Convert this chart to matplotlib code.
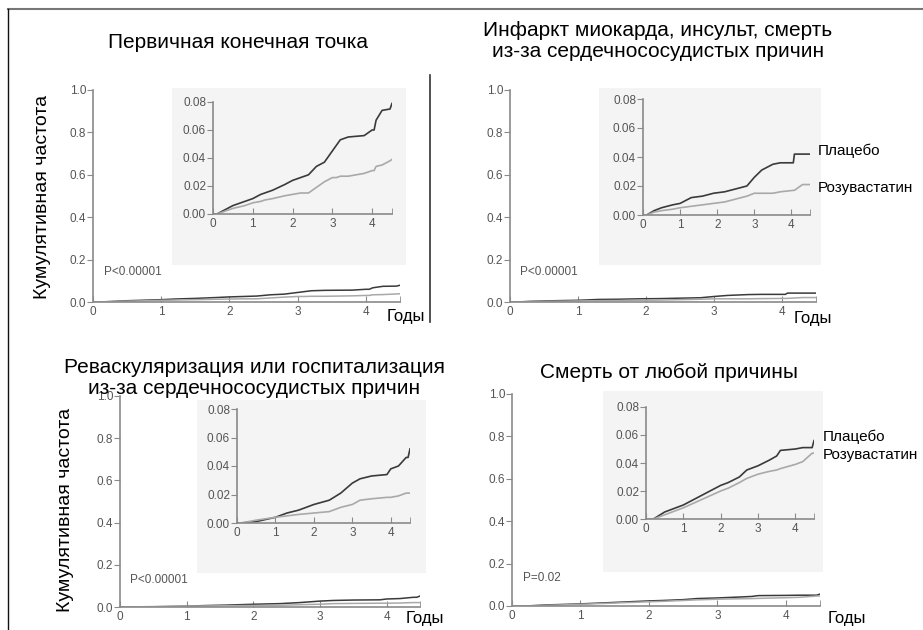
import matplotlib
matplotlib.use("Agg")
import matplotlib.pyplot as plt
from matplotlib.patches import Rectangle
from matplotlib.lines import Line2D
from matplotlib.ticker import MultipleLocator, FormatStrFormatter

plt.rcParams['font.family'] = ['Liberation Sans', 'DejaVu Sans']

W, H = 923, 630

# --- data (years, cumulative incidence) ---
titles = ["Первичная конечная точка",
          "Инфаркт миокарда, инсульт, смерть\nиз-за сердечнососудистых причин",
          "Реваскуляризация или госпитализация\nиз-за сердечнососудистых причин",
          "Смерть от любой причины"]
p_values = ["P<0.00001", "P<0.00001", "P<0.00001", "P=0.02"]

t1 = [0, 0.1, 0.3, 0.5, 0.8, 1.0, 1.2, 1.3, 1.5, 1.8, 2.0, 2.2, 2.4, 2.6, 2.8, 3.0, 3.1, 3.2, 3.4, 3.8, 4.0, 4.05, 4.1, 4.25, 4.45, 4.5]
plac1 = [0, 0, 0.003, 0.006, 0.009, 0.011, 0.014, 0.015, 0.017, 0.021, 0.024, 0.026, 0.028, 0.034, 0.037, 0.045, 0.049, 0.053, 0.055, 0.056, 0.060, 0.060, 0.067, 0.074, 0.075, 0.079]
rosu1 = [0, 0, 0.002, 0.004, 0.006, 0.008, 0.009, 0.010, 0.011, 0.013, 0.014, 0.015, 0.015, 0.019, 0.023, 0.026, 0.026, 0.027, 0.027, 0.029, 0.031, 0.031, 0.034, 0.035, 0.038, 0.039]

t2 = [0, 0.1, 0.3, 0.5, 0.8, 1.0, 1.3, 1.6, 1.9, 2.2, 2.5, 2.8, 3.0, 3.2, 3.5, 3.7, 4.05, 4.08, 4.3, 4.5]
plac2 = [0, 0, 0.003, 0.005, 0.007, 0.008, 0.012, 0.013, 0.015, 0.016, 0.018, 0.020, 0.026, 0.031, 0.035, 0.036, 0.036, 0.042, 0.042, 0.042]
rosu2 = [0, 0, 0.002, 0.003, 0.004, 0.005, 0.006, 0.007, 0.008, 0.009, 0.011, 0.013, 0.015, 0.015, 0.015, 0.016, 0.017, 0.017, 0.021, 0.021]

t3 = [0, 0.1, 0.5, 1.0, 1.3, 1.6, 2.0, 2.4, 2.7, 3.0, 3.2, 3.5, 3.9, 4.0, 4.2, 4.4, 4.45, 4.5]
plac3 = [0, 0, 0.001, 0.004, 0.007, 0.009, 0.013, 0.016, 0.021, 0.028, 0.031, 0.033, 0.034, 0.038, 0.040, 0.046, 0.046, 0.052]
rosu3 = [0, 0, 0.002, 0.004, 0.005, 0.006, 0.007, 0.008, 0.011, 0.013, 0.016, 0.017, 0.018, 0.018, 0.019, 0.021, 0.021, 0.021]

t4 = [0, 0.2, 0.5, 1.0, 1.5, 2.0, 2.2, 2.5, 2.7, 3.0, 3.3, 3.5, 3.6, 4.0, 4.2, 4.45, 4.5]
plac4 = [0, 0, 0.005, 0.010, 0.017, 0.024, 0.026, 0.030, 0.035, 0.038, 0.042, 0.045, 0.049, 0.050, 0.051, 0.051, 0.056]
rosu4 = [0, 0, 0.003, 0.008, 0.014, 0.020, 0.022, 0.026, 0.029, 0.032, 0.034, 0.035, 0.036, 0.039, 0.041, 0.047, 0.047]

series = [(t1, plac1, rosu1), (t2, plac2, rosu2), (t3, plac3, rosu3), (t4, plac4, rosu4)]

# --- layout in pixels: (left, top, right, bottom) ---
main_px = [(93, 90, 400, 302), (510, 90, 816, 302), (120, 396, 420, 607), (512, 394, 820, 606)]
inset_px = [(213, 102, 392, 214), (643, 99, 810, 215), (237, 409, 410, 523), (646, 407, 814, 519)]
gray_px = [(172, 88, 406, 265), (599, 88, 821, 265), (197, 400, 426, 573), (603, 391, 823, 572)]
title_xy = [(238, 42), (658, 41), (254, 378), (669, 373)]
p_xy = [(104, 272), (520, 272), (130, 580), (523, 578)]
years_xy = [(387, 316), (794, 318), (406, 619), (828, 619)]
ylabel_xy = [(43, 197), (65, 510)]
legend_xy = [None, (818, 151, 188), None, (823, 437, 455)]

DARK = '#3a3a3a'
LIGHT = '#a9a9a9'
AXC = '#8a8a8a'


def rect(l, t, r, b):
    return [l / W, 1 - b / H, (r - l) / W, (b - t) / H]


def fx(x):
    return x / W


def fy(y):
    return 1 - y / H


def style_axes(ax, ymax, ystep, fmt, lab_size):
    for s in ['top', 'right']:
        ax.spines[s].set_visible(False)
    for s in ['left', 'bottom']:
        ax.spines[s].set_color(AXC)
        ax.spines[s].set_linewidth(1.2)
    ax.set_xlim(0, 4.5)
    ax.set_ylim(0, ymax)
    ax.xaxis.set_major_locator(MultipleLocator(1))
    ax.xaxis.set_minor_locator(MultipleLocator(0.5))
    ax.yaxis.set_major_locator(MultipleLocator(ystep))
    ax.yaxis.set_major_formatter(FormatStrFormatter(fmt))
    ax.tick_params(axis='x', which='both', direction='in', length=4, color=AXC,
                   labelsize=lab_size, labelcolor='#555555', pad=3)
    ax.tick_params(axis='y', which='major', direction='out', length=4, color=AXC,
                   labelsize=lab_size, labelcolor='#555555', pad=1)
    ax.set_xticks([4.5], minor=True)
    ax.set_xticks([0, 1, 2, 3, 4])


fig = plt.figure(figsize=(W / 100, H / 100), dpi=100)

for i in range(4):
    t, pl, ro = series[i]

    ax = fig.add_axes(rect(*main_px[i]))
    ax.set_facecolor('none')
    style_axes(ax, 1.0, 0.2, '%.1f', 8.5)
    ax.plot(t, pl, color=DARK, lw=1.1)
    ax.plot(t, ro, color=LIGHT, lw=1.1)

    l, tp, r, b = gray_px[i]
    fig.add_artist(Rectangle((fx(l), fy(b)), (r - l) / W, (b - tp) / H,
                             transform=fig.transFigure, facecolor='#f4f4f4',
                             edgecolor='none', zorder=0.5))

    ins = fig.add_axes(rect(*inset_px[i]))
    ins.set_zorder(2)
    ins.set_facecolor('none')
    style_axes(ins, 0.08, 0.02, '%.2f', 8.5)
    ins.plot(t, pl, color=DARK, lw=1.2)
    ins.plot(t, ro, color=LIGHT, lw=1.2)

    fig.text(fx(title_xy[i][0]), fy(title_xy[i][1]), titles[i], ha='center', va='center',
             fontsize=15, linespacing=1.1)
    fig.text(fx(p_xy[i][0]), fy(p_xy[i][1]), p_values[i], ha='left', va='center',
             fontsize=8.5, color='#555555')
    fig.text(fx(years_xy[i][0]), fy(years_xy[i][1]), 'Годы', ha='left', va='center',
             fontsize=12)
    if legend_xy[i] is not None:
        x, y1, y2 = legend_xy[i]
        fig.text(fx(x), fy(y1), 'Плацебо', ha='left', va='center', fontsize=11)
        fig.text(fx(x), fy(y2), 'Розувастатин', ha='left', va='center', fontsize=11)

for x, y in ylabel_xy:
    fig.text(fx(x), fy(y), 'Кумулятивная частота', ha='center', va='center',
             rotation=90, fontsize=14)

# frame lines of the slide
fig.add_artist(Line2D([fx(8), 1], [fy(9), fy(9)], color='#777777', lw=1.5,
                      transform=fig.transFigure))
fig.add_artist(Line2D([fx(8), fx(8)], [fy(9), 0], color='#111111', lw=1.0,
                      transform=fig.transFigure))
fig.add_artist(Line2D([fx(430), fx(430)], [fy(75), fy(322)], color='#333333', lw=1.2,
                      transform=fig.transFigure))

fig.savefig('out.png', dpi=100)
